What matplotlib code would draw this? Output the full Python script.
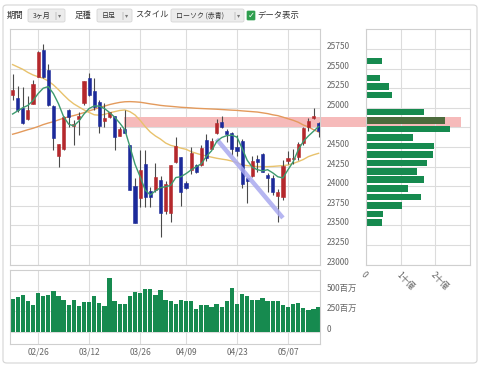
import numpy as np
import matplotlib.pyplot as plt
from matplotlib.patches import FancyBboxPatch, Rectangle

plt.rcParams['font.family'] = ['Noto Sans CJK JP', 'DejaVu Sans']

# trading days shown on the chart
dates = ['02/16', '02/20', '02/21', '02/22', '02/23', '02/26', '02/27', '02/28',
         '03/01', '03/02', '03/05', '03/06', '03/07', '03/08', '03/09', '03/12',
         '03/13', '03/14', '03/15', '03/16', '03/19', '03/20', '03/21', '03/22',
         '03/23', '03/26', '03/27', '03/28', '03/29', '04/02', '04/03', '04/04',
         '04/05', '04/06', '04/09', '04/10', '04/11', '04/12', '04/13', '04/16',
         '04/17', '04/18', '04/19', '04/20', '04/23', '04/24', '04/25', '04/26',
         '04/27', '04/30', '05/01', '05/02', '05/03', '05/04', '05/07', '05/08',
         '05/09', '05/10', '05/11', '05/14', '05/15']

opens = [25159, 25125, 24997, 24857, 25052, 25393, 25741, 25478, 25018, 24389,
         24474, 24976, 24763, 24857, 25061, 25380, 25219, 25078, 24836, 24878,
         24895, 24645, 24730, 24525, 24002, 23845, 24283, 23939, 23951, 24079,
         23680, 23654, 24313, 24377, 24037, 24207, 24270, 24270, 24590, 24480,
         24680, 24823, 24708, 24674, 24496, 24581, 24100, 24130, 24347, 24411,
         24140, 24100, 23880, 23860, 24317, 24340, 24370, 24550, 24750, 24870,
         24800]
highs = [25431, 25273, 25261, 25146, 25358, 25728, 25813, 25558, 25030, 24538,
         24891, 24984, 24848, 24946, 25345, 25444, 25376, 25099, 25057, 24951,
         24895, 24760, 24972, 24525, 24101, 24462, 24462, 23994, 24292, 24130,
         24060, 24270, 24623, 24377, 24060, 24504, 24285, 24530, 24660, 24610,
         24860, 24900, 24730, 24690, 24653, 24600, 24120, 24389, 24398, 24420,
         24170, 24140, 23960, 24330, 24450, 24470, 24566, 24760, 24870, 25000,
         24820]
lows = [25103, 24950, 24797, 24848, 25052, 25393, 25380, 25020, 24457, 24240,
        24466, 24750, 24529, 24657, 25040, 25150, 24972, 24674, 24759, 24866,
        24462, 24640, 24674, 23952, 23526, 23739, 23739, 23739, 23930, 23356,
        23650, 23547, 24300, 23747, 23960, 24150, 24170, 24260, 24320, 24470,
        24660, 24740, 24560, 24400, 24380, 23980, 23780, 24120, 24185, 24175,
        23930, 23890, 23540, 23820, 24280, 24280, 24330, 24530, 24700, 24860,
        24630]
closes = [25231, 24967, 24806, 24967, 25307, 25711, 25388, 25031, 24614, 24538,
          24882, 24882, 24793, 24899, 25337, 25167, 25014, 24768, 24874, 24942,
          24630, 24730, 24683, 23952, 23526, 24207, 23866, 23858, 24113, 23654,
          24030, 24270, 24513, 23930, 23973, 24419, 24185, 24483, 24360, 24573,
          24800, 24759, 24661, 24470, 24453, 24024, 24066, 24321, 24313, 24185,
          24099, 23930, 23930, 24262, 24357, 24361, 24543, 24740, 24831, 24899,
          24706]

# volume in millions
volumes = [398, 415, 447, 374, 325, 467, 431, 447, 500, 431,
           382, 325, 386, 313, 362, 358, 439, 346, 309, 650,
           374, 333, 333, 431, 480, 472, 516, 524, 451, 508,
           386, 378, 341, 386, 374, 366, 280, 325, 325, 297,
           333, 297, 370, 528, 338, 457, 430, 384, 384, 404,
           368, 376, 376, 318, 303, 335, 352, 292, 266, 270,
           293]

ma_short = [24920, 24960, 25000, 25030, 25090, 25180, 25249, 25270, 25180, 25050,
            24886, 24790, 24768, 24830, 24920, 24990, 25023, 25020, 24990, 24940,
            24880, 24805, 24720, 24504, 24280, 24120, 23950, 23888, 23940, 23980,
            23994, 24010, 24110, 24121, 24160, 24207, 24249, 24285, 24380, 24450,
            24568, 24620, 24645, 24650, 24625, 24483, 24330, 24240, 24210, 24195,
            24210, 24170, 24120, 24105, 24210, 24310, 24462, 24570, 24640, 24700,
            24760]
ma_mid = [25550, 25520, 25490, 25450, 25418, 25395, 25376, 25340, 25291, 25230,
          25163, 25100, 25049, 25010, 24972, 24940, 24910, 24905, 24915, 24935,
          24950, 24965, 24972, 24950, 24908, 24840, 24759, 24690, 24640, 24600,
          24550, 24520, 24504, 24485, 24470, 24440, 24419, 24400, 24385, 24370,
          24356, 24345, 24335, 24320, 24300, 24270, 24262, 24255, 24250, 24249,
          24249, 24252, 24257, 24262, 24270, 24290, 24313, 24340, 24377, 24400,
          24419]
ma_long = [24662, 24680, 24700, 24720, 24738, 24760, 24785, 24805, 24822, 24845,
           24866, 24885, 24900, 24918, 24938, 24960, 24980, 25003, 25020, 25040,
           25055, 25068, 25076, 25078, 25075, 25070, 25060, 25049, 25040, 25030,
           25023, 25018, 25012, 25006, 25002, 24998, 24993, 24990, 24987, 24984,
           24981, 24977, 24973, 24969, 24966, 24960, 24955, 24950, 24945, 24935,
           24925, 24910, 24899, 24880, 24860, 24840, 24815, 24780, 24755, 24720,
           24690]

tick_dates = ['02/26', '03/12', '03/26', '04/09', '04/23', '05/07']

trend_dates = ['04/17', '05/04']
trend_prices = [24600, 23595]

band_start = '03/21'
band_prices = [24750, 24880]

# volume by price (billions)
profile_prices = [23539, 23647, 23756, 23864, 23972, 24081, 24189, 24297, 24405, 24514,
                  24622, 24730, 24839, 24947, 25164, 25272, 25380, 25597]
profile_volumes = [0.45, 0.48, 1.03, 1.58, 1.22, 1.67, 1.46, 1.75, 1.92, 1.97,
                   1.35, 2.42, 2.28, 1.68, 0.74, 0.67, 0.40, 0.45]
profile_highlight = 24839

UP = '#b5282c'
DOWN = '#1c2a9a'
GREEN = '#168a4f'
GRID = '#dcdcdc'
SPINE = '#cfcfcf'
TXT = '#666666'

W, H = 480, 366
fig = plt.figure(figsize=(W / 100, H / 100), dpi=100)


def frac(x0, y0, x1, y1):
    # pixel box (top-left origin) -> figure fraction rect
    return [x0 / W, 1 - y1 / H, (x1 - x0) / W, (y1 - y0) / H]


# outer panel
fig.patches.append(FancyBboxPatch((3 / W, 3 / H), 474 / W, 358 / H,
                                  boxstyle='round,pad=0,rounding_size=0.008',
                                  transform=fig.transFigure, facecolor='none',
                                  edgecolor='#d4d4d4', lw=0.8, zorder=-1))

# toolbar
ty = 1 - 15.5 / H
fig.text(7 / W, ty, '期間', fontsize=6, color='#333333', va='center')
fig.text(75 / W, ty, '足種', fontsize=6, color='#333333', va='center')
fig.text(135 / W, ty, 'スタイル', fontsize=6, color='#333333', va='center')
fig.text(257 / W, ty, 'データ表示', fontsize=6, color='#333333', va='center')
for x0, x1, label in [(28, 65, '3ヶ月'), (97, 132, '日足'), (171, 244, 'ローソク (赤青)')]:
    fig.patches.append(FancyBboxPatch((x0 / W, 1 - 22 / H), (x1 - x0) / W, 13 / H,
                                      boxstyle='round,pad=0,rounding_size=0.004',
                                      transform=fig.transFigure, facecolor='#ececec',
                                      edgecolor='#d6d6d6', lw=0.6))
    fig.text((x0 + 5) / W, ty, label, fontsize=5, color='#333333', va='center')
    fig.text((x1 - 11) / W, ty, '|', fontsize=5, color='#999999', va='center')
    fig.text((x1 - 7) / W, ty, '▾', fontsize=4.5, color='#777777', va='center')
fig.patches.append(FancyBboxPatch((247 / W, 1 - 20 / H), 8 / W, 9 / H,
                                  boxstyle='round,pad=0,rounding_size=0.002',
                                  transform=fig.transFigure, facecolor='#2e9e4e',
                                  edgecolor='#2e9e4e', lw=0.5))
fig.text(251 / W, ty, '✓', fontsize=6, color='white', va='center', ha='center',
         family='DejaVu Sans', weight='bold')

x = np.arange(len(dates))
xlim = (-0.51, 60.27)
ylim = (23000, 26000)
price_ticks = np.arange(23000, 25751, 250)
tick_pos = [dates.index(d) for d in tick_dates]

# price chart
ax = fig.add_axes(frac(10, 29.3, 320, 264.6))
ax.set_xlim(*xlim)
ax.set_ylim(*ylim)
ax.set_axisbelow(True)
ax.grid(True, color=GRID, lw=0.8)
ax.set_xticks(tick_pos)
ax.set_xticklabels([])
ax.set_yticks(price_ticks)
ax.yaxis.tick_right()
ax.tick_params(length=0, labelsize=6, labelcolor=TXT, pad=5)
for lbl in ax.get_yticklabels():
    lbl.set_verticalalignment('baseline')
for s in ax.spines.values():
    s.set_color(SPINE)
    s.set_linewidth(0.8)

# pink price band, runs across into the profile panel
bx0 = dates.index(band_start) - 0.2
ax.add_patch(Rectangle((bx0, band_prices[0]), 87.9 - bx0, band_prices[1] - band_prices[0],
                       facecolor='#f6baba', edgecolor='none', zorder=0.8, clip_on=False))

ax.plot(x, ma_long, color='#e39a5c', lw=1.0, zorder=2)
ax.plot(x, ma_mid, color='#e8c26c', lw=1.0, zorder=2)
ax.plot(x, ma_short, color='#3c9a6e', lw=1.0, zorder=4)

o = np.array(opens)
c = np.array(closes)
colors = [UP if cc >= oo else DOWN for oo, cc in zip(o, c)]
ax.vlines(x, lows, highs, color='#4a4a4a', lw=0.8, zorder=3)
body = np.maximum(np.abs(c - o), 18)
ax.bar(x, body, bottom=np.minimum(o, c), width=0.62, color=colors,
       edgecolor=colors, lw=0.4, zorder=3)

tx = [dates.index(d) for d in trend_dates]
ax.plot(tx, trend_prices, color='#a9a9ef', lw=3.2, alpha=0.85, solid_capstyle='butt', zorder=3.5)

# volume chart
axv = fig.add_axes(frac(10, 270, 320, 344.3))
axv.set_xlim(*xlim)
axv.set_ylim(-156, 750)
axv.set_axisbelow(True)
axv.bar(x, volumes, width=0.84, color=GREEN, zorder=2)
axv.set_xticks(tick_pos)
axv.set_xticklabels(tick_dates)
axv.set_yticks([0, 250, 500])
axv.set_yticklabels(['0', '250百万', '500百万'])
axv.yaxis.tick_right()
axv.grid(True, color=GRID, lw=0.8)
axv.tick_params(length=0, labelsize=6, labelcolor=TXT)
axv.tick_params(axis='y', pad=5)
axv.tick_params(axis='x', pad=2.5)
for lbl in axv.get_yticklabels():
    lbl.set_verticalalignment('baseline')
for s in axv.spines.values():
    s.set_color(SPINE)
    s.set_linewidth(0.8)

# volume by price panel
axh = fig.add_axes(frac(366, 29.3, 470, 264.6))
axh.set_facecolor('none')
axh.set_xlim(0, 3.0)
axh.set_ylim(*ylim)
axh.set_axisbelow(True)
hcolors = ['#4d6b3d' if p == profile_highlight else GREEN for p in profile_prices]
axh.barh(profile_prices, profile_volumes, height=85, color=hcolors, zorder=2)
axh.set_yticks(price_ticks)
axh.set_yticklabels([])
axh.set_xticks([0, 1, 2])
axh.set_xticklabels(['0', '1十億', '2十億'], rotation=-45, ha='left', va='top',
                    rotation_mode='anchor')
axh.grid(True, color=GRID, lw=0.8)
axh.tick_params(length=0, labelsize=6, labelcolor=TXT, pad=4)
for s in axh.spines.values():
    s.set_color(SPINE)
    s.set_linewidth(0.8)

fig.savefig('out.png', dpi=100)
